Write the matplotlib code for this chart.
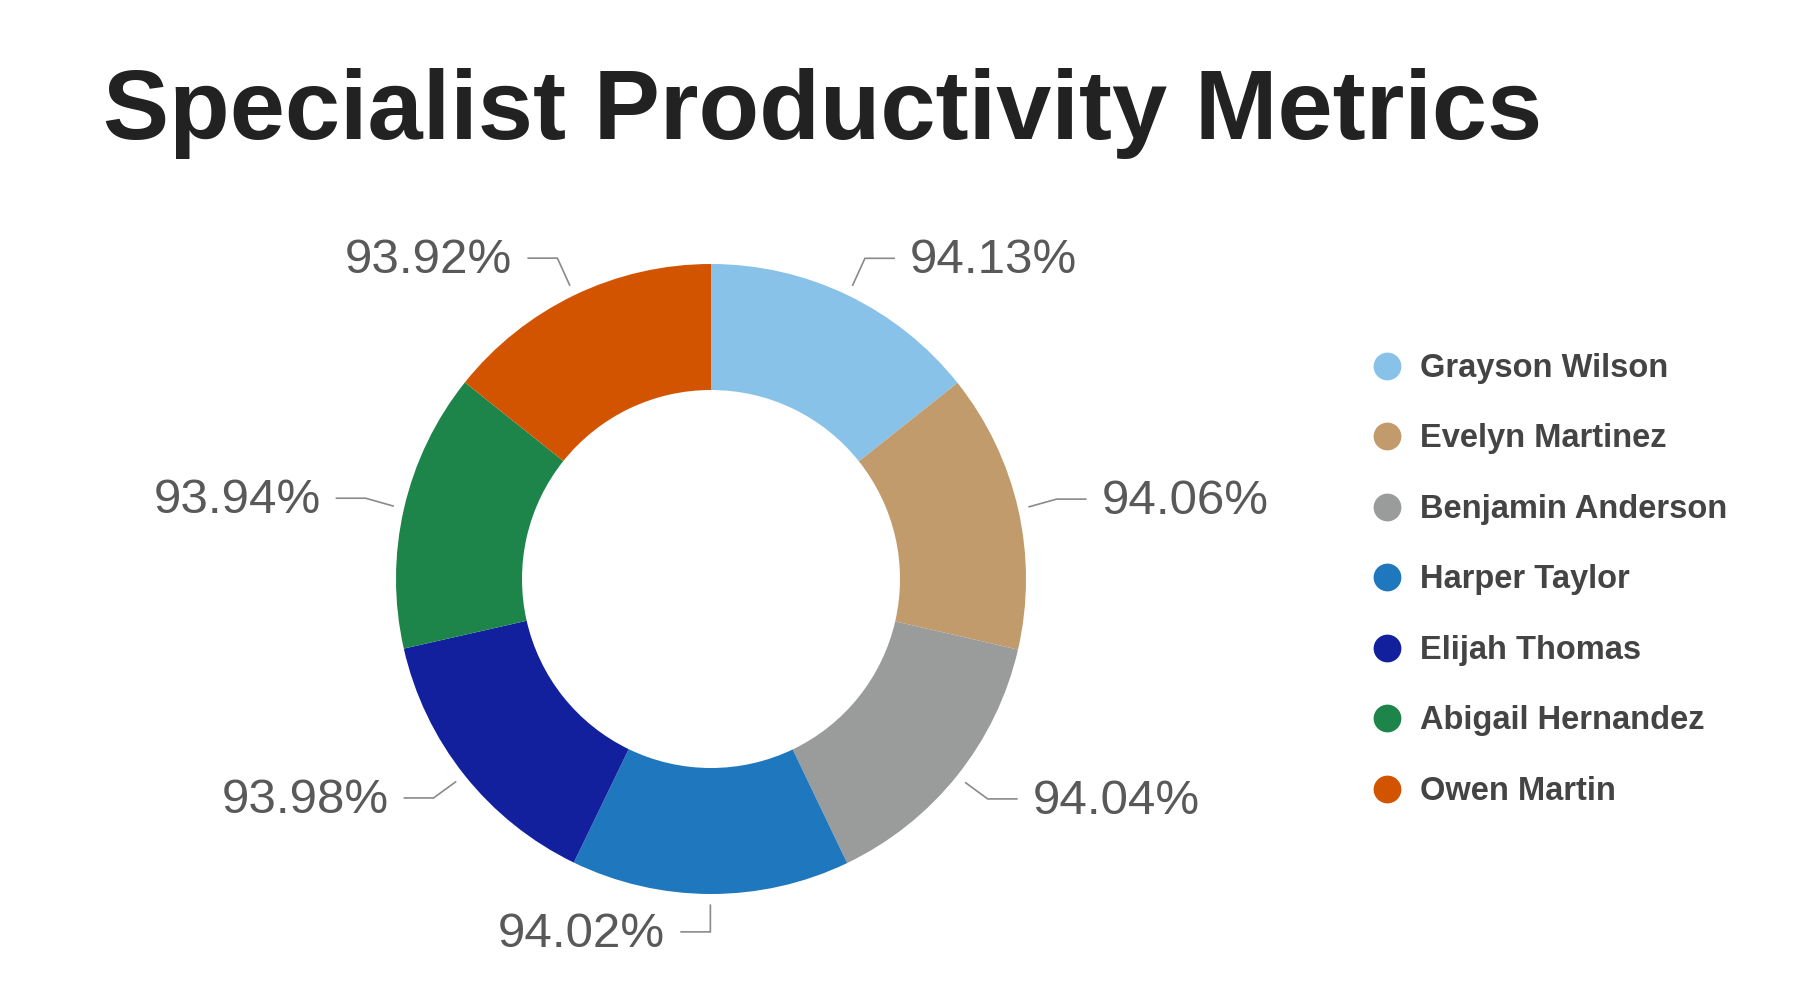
import numpy as np
import matplotlib
matplotlib.use("Agg")
import matplotlib.pyplot as plt
from matplotlib.lines import Line2D

plt.rcParams['font.family'] = ['Liberation Sans', 'DejaVu Sans']

# ---- data ----
title = "Specialist Productivity Metrics"
names = ["Grayson Wilson", "Evelyn Martinez", "Benjamin Anderson", "Harper Taylor",
         "Elijah Thomas", "Abigail Hernandez", "Owen Martin"]
values = [94.13, 94.06, 94.04, 94.02, 93.98, 93.94, 93.92]
colors = ["#89C2E8", "#C19B6C", "#9A9C9B", "#1F77BD", "#13209D", "#1E854A", "#D35400"]

W, H, DPI = 1800, 1000, 100
fig = plt.figure(figsize=(W / DPI, H / DPI), dpi=DPI, facecolor="white")
ax = fig.add_axes([0, 0, 1, 1])

# layout: donut centre at (711, 579) px from top-left, radius 315 px
R_PX = 315.0
cx, cy = 711.0, 579.0

wedges, _ = ax.pie(values, colors=colors, startangle=90, counterclock=False,
                   radius=1.0, wedgeprops=dict(width=0.4, edgecolor="none"),
                   center=(0, 0), frame=False)
ax.set_xlim(-cx / R_PX, (W - cx) / R_PX)
ax.set_ylim(-(H - cy) / R_PX, cy / R_PX)
ax.set_aspect("auto")
ax.axis("off")

px = 1.0 / R_PX
for w, v in zip(wedges, values):
    th = np.deg2rad((w.theta1 + w.theta2) / 2.0)
    c, s = np.cos(th), np.sin(th)
    r0, r1 = 1.033, 1.125
    x0, y0 = r0 * c, r0 * s
    x1, y1 = r1 * c, r1 * s + 1.5 * px
    side = 1 if c > 0 else -1
    x2 = x1 + side * 30 * px
    ax.plot([x0, x1, x2], [y0, y1, y1], color="#8a8a8a", lw=1.2,
            solid_capstyle="butt", solid_joinstyle="miter")
    ax.text(x2 + side * 15 * px, y1 - 15.0 * px, f"{v:.2f}%",
            ha="left" if side > 0 else "right", va="baseline",
            fontsize=35.5, color="#595959")

# title
fig.text(103 / W, 1 - 139 / H, title, ha="left", va="baseline",
         fontsize=71.5, fontweight="bold", color="#222222")

# legend
handles = [Line2D([0], [0], marker="o", linestyle="none", markersize=20,
                  markerfacecolor=col, markeredgecolor="none") for col in colors]
leg = fig.legend(handles, names, loc="upper left",
                 bbox_to_anchor=(1372.3 / W, 1 - 353 / H),
                 frameon=False, borderpad=0, borderaxespad=0,
                 handlelength=0.9, handletextpad=0.57, labelspacing=1.21,
                 prop=dict(size=23.5, weight="bold"))
for t in leg.get_texts():
    t.set_color("#444444")

fig.savefig("out.png", dpi=DPI, facecolor="white")
